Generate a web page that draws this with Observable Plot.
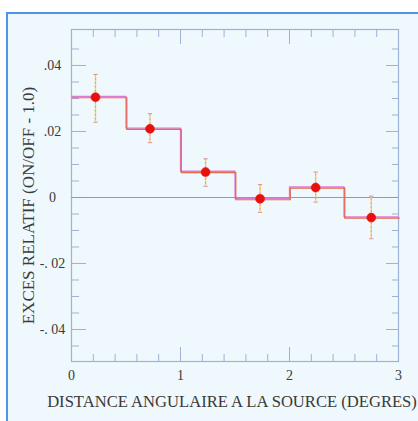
<!DOCTYPE html>
<html>
<head>
<meta charset="utf-8">
<script src="https://cdn.jsdelivr.net/npm/d3@7"></script>
<script src="https://cdn.jsdelivr.net/npm/@observablehq/plot@0.6"></script>
<style>
  html, body { margin: 0; padding: 0; background: #ffffff; }
  #wrap { position: relative; width: 418px; height: 421px; overflow: hidden; }
  #frame { position: absolute; left: 6px; top: 12px; width: 430px; height: 430px;
           background: #eff8fc; border-left: 2px solid #4f94ec; border-top: 2px solid #4f94ec; }
  #chart { position: absolute; left: 0; top: 0; }
</style>
</head>
<body>
<div id="wrap"><div id="frame"></div><div id="chart"></div></div>
<script>
// Data
const binEdges = [0, 0.5, 1, 1.5, 2, 2.5, 3];
const binValues = [0.0304, 0.0208, 0.0077, -0.0005, 0.0030, -0.0061];
const pointX = [0.22, 0.72, 1.23, 1.73, 2.24, 2.75];
const pointY = [0.0304, 0.0208, 0.0077, -0.0004, 0.0030, -0.0061];
const errLow = [0.0228, 0.0166, 0.0034, -0.0045, -0.0014, -0.0125];
const errHigh = [0.0373, 0.0254, 0.0117, 0.0039, 0.0077, 0.0004];

const xTicks = [0, 1, 2, 3];
const xTickLabels = ["0", "1", "2", "3"];
const xMinor = [0.2, 0.4, 0.6, 0.8, 1.2, 1.4, 1.6, 1.8, 2.2, 2.4, 2.6, 2.8];
const yTicks = [0.04, 0.02, 0, -0.02, -0.04];
const yTickLabels = [".04", ".02", "0", "-. 02", "-. 04"];
const yMinor = [0.045, 0.035, 0.03, 0.025, 0.015, 0.01, 0.005, -0.005, -0.01, -0.015,
                -0.025, -0.03, -0.035, -0.045];
const xLabel = "DISTANCE ANGULAIRE A LA SOURCE (DEGRES)";
const yLabel = "EXCES RELATIF (ON/OFF - 1.0)";

const stepData = binEdges.map((e, i) => ({x: e, y: binValues[Math.min(i, binValues.length - 1)]}));
const points = pointX.map((x, i) => ({x, y: pointY[i], lo: errLow[i], hi: errHigh[i]}));

const axisColor = "#9db3d6";
const textColor = "#3a3a3a";
const hcap = { draw(ctx, size) { const r = Math.sqrt(size) / 2; ctx.moveTo(-r, 0); ctx.lineTo(r, 0); } };

const plot = Plot.plot({
  width: 418,
  height: 421,
  marginLeft: 71,
  marginRight: 20,
  marginTop: 29,
  marginBottom: 60,
  style: {background: "transparent", fontFamily: "'Liberation Serif', serif", color: textColor},
  x: {domain: [0, 3]},
  y: {domain: [-0.0497, 0.0509]},
  marks: [
    Plot.frame({stroke: axisColor, strokeWidth: 1.2}),
    // major ticks (inward)
    Plot.axisX({anchor: "bottom", ticks: xTicks, tickSize: -14, tickFormat: () => "", stroke: axisColor, label: null}),
    Plot.axisX({anchor: "top", ticks: xTicks, tickSize: -14, tickFormat: () => "", stroke: axisColor, label: null}),
    Plot.axisX({anchor: "bottom", ticks: xMinor, tickSize: -7, tickFormat: () => "", stroke: axisColor, label: null}),
    Plot.axisX({anchor: "top", ticks: xMinor, tickSize: -7, tickFormat: () => "", stroke: axisColor, label: null}),
    Plot.axisY({anchor: "left", ticks: yTicks, tickSize: -15, tickFormat: () => "", stroke: axisColor, label: null}),
    Plot.axisY({anchor: "right", ticks: yTicks, tickSize: -13, tickFormat: () => "", stroke: axisColor, label: null}),
    Plot.axisY({anchor: "left", ticks: yMinor, tickSize: -8, tickFormat: () => "", stroke: axisColor, label: null}),
    Plot.axisY({anchor: "right", ticks: yMinor, tickSize: -7, tickFormat: () => "", stroke: axisColor, label: null}),
    // tick labels
    Plot.text(xTicks, {x: d => d, text: (d, i) => xTickLabels[i], frameAnchor: "bottom", dy: 18, fontSize: 14, fill: textColor}),
    Plot.text(yTicks, {y: d => d, text: (d, i) => yTickLabels[i], frameAnchor: "left", dx: -19, fontSize: 14, fill: textColor, textAnchor: "middle"}),
    // axis titles
    Plot.text([xLabel], {text: d => d, frameAnchor: "bottom", dy: 45, dx: -3, fontSize: 16.6, fill: textColor, textAnchor: "middle"}),
    Plot.text([yLabel], {text: d => d, frameAnchor: "left", rotate: -90, dx: -43, dy: 10, fontSize: 17, fill: textColor, textAnchor: "middle"}),
    // zero line
    Plot.ruleY([0], {stroke: "#6f9ff0", strokeWidth: 1.2}),
    // histogram steps (double stroke)
    Plot.line(stepData, {x: "x", y: "y", curve: "step-after", stroke: "#e07ad0", strokeWidth: 1.3, dy: -0.8}),
    Plot.line(stepData, {x: "x", y: "y", curve: "step-after", stroke: "#e25a3a", strokeWidth: 1.2, dx: 0.8, dy: 0.6, strokeOpacity: 0.9}),
    // error bars (dotted yellow / pink)
    Plot.ruleX(points, {x: "x", y1: "lo", y2: "hi", stroke: "#f5e020", strokeWidth: 1.4, strokeDasharray: "2,2"}),
    Plot.ruleX(points, {x: "x", y1: "lo", y2: "hi", stroke: "#ee8fa8", strokeWidth: 1.3, strokeDasharray: "2,2", strokeDashoffset: 2}),
    Plot.dot(points, {x: "x", y: "hi", symbol: hcap, r: 2.5, stroke: "#e59090", strokeWidth: 1}),
    Plot.dot(points, {x: "x", y: "lo", symbol: hcap, r: 2.5, stroke: "#e59090", strokeWidth: 1}),
    // points
    Plot.dot(points, {x: "x", y: "y", r: 4.5, fill: "#e8100c", stroke: "#e8100c", strokeWidth: 0.5})
  ]
});
document.getElementById("chart").appendChild(plot);
</script>
</body>
</html>
